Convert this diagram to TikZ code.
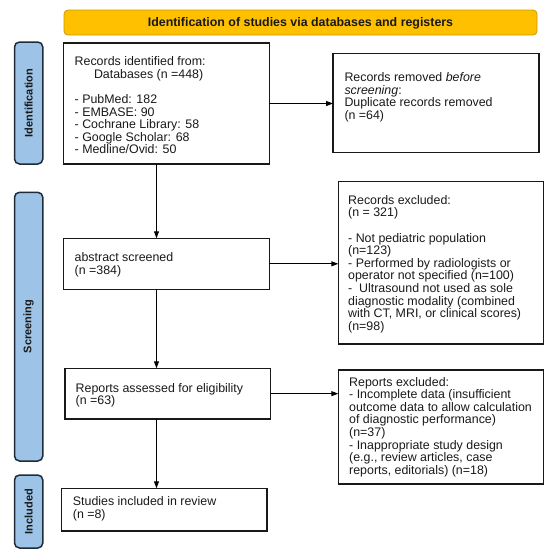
\documentclass[tikz,border=0pt]{standalone}
\usepackage{fontspec}
\setmainfont{Liberation Sans}
\usetikzlibrary{arrows.meta,calc}
\definecolor{hdrfill}{HTML}{FFC000}
\definecolor{hdrdraw}{HTML}{C99A00}
\definecolor{barfill}{HTML}{9DC3E6}
\definecolor{bardraw}{HTML}{1E2B3A}
\tikzset{
  box/.style={draw=black!90, line width=1.3pt, rectangle, inner sep=0pt, outer sep=0pt},
  txt/.style={align=left, inner sep=0pt, anchor=west, text=black!90, font=\fontsize{12.4}{12.6}\selectfont},
  sidebar/.style={draw=bardraw, fill=barfill, line width=1.5pt, rounded corners=5pt, inner sep=0pt, outer sep=0pt, minimum width=28.3pt},
  sidelabel/.style={rotate=90, font=\bfseries\fontsize{11}{12}\selectfont, text=black!90, inner sep=0pt},
  hdr/.style={draw=hdrdraw, fill=hdrfill, line width=0.8pt, rounded corners=4pt, inner sep=0pt, outer sep=0pt},
  arr/.style={draw=black, line width=0.9pt, -{Triangle[length=7pt,width=5pt]}}
}
\begin{document}
\begin{tikzpicture}[x=1pt,y=-1pt]
\useasboundingbox (0,0) rectangle (550,558);
% header
\node[hdr, minimum width=473pt, minimum height=25pt] (hdr) at (300.5,22.5) {};
\node[font=\bfseries\fontsize{12.4}{13}\selectfont, text=black!90, inner sep=0pt] (hdrt) at (300.5,23) {Identification of studies via databases and registers};
% side bars
\node[sidebar, minimum height=122pt] (barid) at (28.65,103) {};
\node[sidelabel] (barIdT) at (barid.center) {Identification};
\node[sidebar, minimum height=268.7pt] (barsc) at (28.65,326.65) {};
\node[sidelabel] (barScT) at (barsc.center) {Screening};
\node[sidebar, minimum height=73pt] (barin) at (28.65,511.5) {};
\node[sidelabel] (barInT) at (barin.center) {Included};
% boxes
\node[box, minimum width=205.9pt, minimum height=121pt] (b1) at (166.45,103.5) {};
\node[box, minimum width=206pt, minimum height=99.4pt] (b2) at (436,103) {};
\node[box, minimum width=205.8pt, minimum height=51pt] (b3) at (166.5,263.8) {};
\node[box, minimum width=205.4pt, minimum height=162.3pt] (b4) at (441,262.85) {};
\node[box, minimum width=205.5pt, minimum height=50.7pt] (b5) at (167.75,393.65) {};
\node[box, minimum width=205.4pt, minimum height=114pt] (b6) at (441,427) {};
\node[box, minimum width=205.2pt, minimum height=42.7pt] (b7) at (164.4,509.65) {};
% texts
\node[txt] (t1) at (74.5,105.3) {Records identified from:\\\hspace*{19.3pt}Databases (n =448)\\[12.6pt]- PubMed: 182\\- EMBASE: 90\\- Cochrane Library: 58\\- Google Scholar: 68\\- Medline/Ovid: 50};
\node[txt] (t2) at (344.3,97.3) {Records removed \textit{before}\\\textit{screening}:\\Duplicate records removed\\(n =64)};
\node[txt] (t3) at (74.5,265) {abstract screened\\(n =384)};
\node[txt] (t4) at (348,264) {Records excluded:\\(n = 321)\\[12.6pt]- Not pediatric population\\(n=123)\\- Performed by radiologists or\\operator not specified (n=100)\\-\ \ Ultrasound not used as sole\\diagnostic modality (combined\\with CT, MRI, or clinical scores)\\(n=98)};
\node[txt] (t5) at (75.5,395.2) {Reports assessed for eligibility\\(n =63)};
\node[txt] (t6) at (349,427) {Reports excluded:\\- Incomplete data (insufficient\\outcome data to allow calculation\\of diagnostic performance)\\(n=37)\\- Inappropriate study design\\(e.g., review articles, case\\reports, editorials) (n=18)};
\node[txt] (t7) at (72.7,508.5) {Studies included in review\\(n =8)};
% arrows
\coordinate (ax) at (156.5,0);
\draw[arr] (b1.south -| ax) -- (b3.north -| ax);
\draw[arr] (b3.south -| ax) -- (b5.north -| ax);
\draw[arr] (b5.south -| ax) -- (b7.north -| ax);
\draw[arr] (b1.east) -- (b1.east -| b2.west);
\draw[arr] (b3.east) -- (b3.east -| b4.west);
\draw[arr] (b5.east) -- (b5.east -| b6.west);
\end{tikzpicture}
\end{document}
